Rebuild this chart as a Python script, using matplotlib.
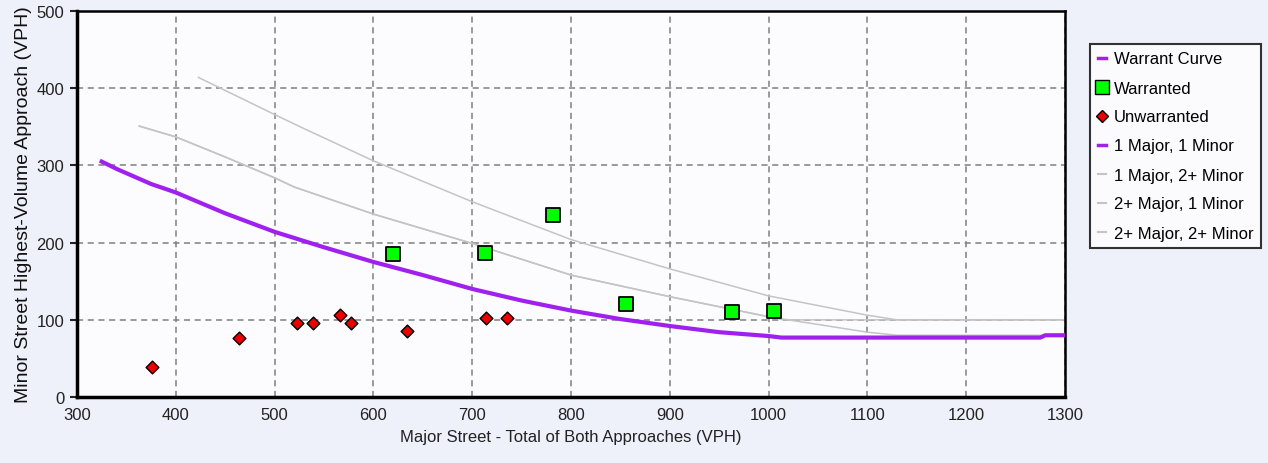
import matplotlib.pyplot as plt
from matplotlib.lines import Line2D

# Warrant curve (1 Major, 1 Minor)
curve_x = [325, 341, 375, 400, 450, 500, 550, 600, 650, 700, 750, 800, 850, 900, 950, 1000, 1013, 1275, 1280, 1300]
curve_y = [305, 295, 276, 265, 238, 214, 194, 175, 158, 140, 125, 112, 101, 92, 84, 79, 77, 77, 80, 80]

# 1 Major, 2+ Minor
m1_x = [363, 400, 450, 500, 520, 600, 700, 800, 900, 1000, 1100, 1130, 1300]
m1_y = [351, 337, 311, 284, 272, 237, 199, 158, 130, 104, 84, 80, 80]

# 2+ Major, 1 Minor (same curve, floor at 100)
m2_x = [363, 400, 450, 500, 520, 600, 700, 800, 900, 1000, 1015, 1300]
m2_y = [351, 337, 311, 284, 272, 237, 199, 158, 130, 104, 100, 100]

# 2+ Major, 2+ Minor
m3_x = [423, 500, 526, 600, 700, 800, 900, 1000, 1100, 1130, 1300]
m3_y = [414, 366, 350, 306, 253, 204, 166, 131, 106, 100, 100]

warranted_x = [620, 713, 782, 856, 963, 1005]
warranted_y = [185, 187, 236, 120, 110, 111]

unwarranted_x = [376, 464, 523, 539, 566, 577, 634, 714, 735]
unwarranted_y = [39, 76, 96, 96, 106, 96, 86, 103, 103]

plt.rcParams['font.family'] = ['Liberation Sans', 'DejaVu Sans']

fig = plt.figure(figsize=(12.68, 4.64), dpi=100, facecolor='#eef0fa')
ax = fig.add_axes([0.0607, 0.1422, 0.7792, 0.8318])
ax.set_facecolor('#fcfcff')

gray = '#c4c4c4'
purple = '#a020f0'
ax.plot(m3_x, m3_y, color=gray, lw=1.1, zorder=2)
ax.plot(m2_x, m2_y, color=gray, lw=1.1, zorder=2)
ax.plot(m1_x, m1_y, color=gray, lw=1.1, zorder=2)
ax.plot(curve_x, curve_y, color=purple, lw=3, zorder=3)
ax.scatter(warranted_x, warranted_y, marker='s', s=110, c='#00ff00', edgecolors='black', linewidths=1.3, zorder=5)
ax.scatter(unwarranted_x, unwarranted_y, marker='D', s=42, c='#ee0000', edgecolors='black', linewidths=1.0, zorder=5)

ax.set_xlim(300, 1300)
ax.set_ylim(0, 500)
ax.set_xticks(range(300, 1301, 100))
ax.set_yticks(range(0, 501, 100))
ax.grid(True, color='#808080', linestyle=(0, (4, 3)), lw=1.1)
ax.tick_params(labelsize=12, colors='#222222')
ax.tick_params(axis='y', length=5, width=1.5, pad=4)
ax.tick_params(axis='x', length=0, pad=7)
for s in ['left', 'bottom']:
    ax.spines[s].set_linewidth(2.5)
for s in ['top', 'right']:
    ax.spines[s].set_linewidth(1.8)

ax.set_xlabel('Major Street - Total of Both Approaches (VPH)', fontsize=12, color='#222222', labelpad=5)
ax.set_ylabel('Minor Street Highest-Volume Approach (VPH)', fontsize=14, color='#111111', labelpad=3)

handles = [
    Line2D([], [], color=purple, lw=2.5),
    Line2D([], [], marker='s', ls='', markerfacecolor='#00ff00', markeredgecolor='black', markersize=10),
    Line2D([], [], marker='D', ls='', markerfacecolor='#ee0000', markeredgecolor='black', markersize=6),
    Line2D([], [], color=purple, lw=2.5),
    Line2D([], [], color=gray, lw=1.5),
    Line2D([], [], color=gray, lw=1.5),
    Line2D([], [], color=gray, lw=1.5),
]
labels = ['Warrant Curve', 'Warranted', 'Unwarranted', '1 Major, 1 Minor',
          '1 Major, 2+ Minor', '2+ Major, 1 Minor', '2+ Major, 2+ Minor']
leg = fig.legend(handles, labels, loc='upper left', bbox_to_anchor=(1090 / 1268, 1 - 45 / 464),
                 fontsize=12, frameon=True, fancybox=False, edgecolor='black', facecolor='white',
                 handlelength=0.5, handletextpad=0.5, labelspacing=0.84, borderpad=0.45,
                 borderaxespad=0)
leg.get_frame().set_linewidth(1.5)

fig.savefig('out.png', dpi=100, facecolor=fig.get_facecolor())
